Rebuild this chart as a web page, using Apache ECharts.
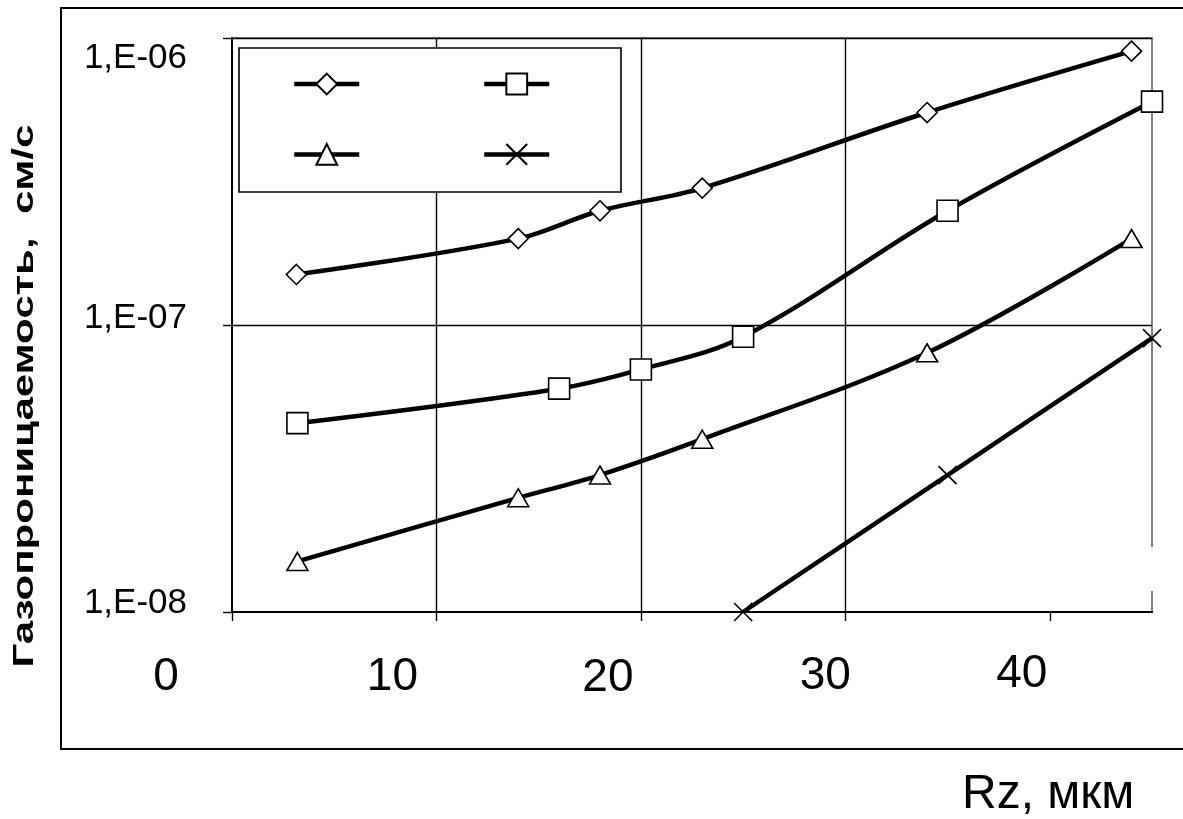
<!DOCTYPE html>
<html>
<head>
<meta charset="utf-8">
<script src="https://cdn.jsdelivr.net/npm/echarts@6/dist/echarts.min.js"></script>
<style>
html,body{margin:0;padding:0;background:#fff;}
#c{width:1183px;height:819px;}
</style>
</head>
<body>
<div id="c"></div>
<script>
// ---- data ----
const xDiamond  = [3.15, 14, 18, 23, 34, 44];
const yDiamond  = [1.5e-7, 2.0e-7, 2.5e-7, 3.0e-7, 5.5e-7, 9.0e-7];
const xSquare   = [3.2, 16, 20, 25, 35, 45];
const ySquare   = [4.55e-8, 6.0e-8, 7.0e-8, 9.1e-8, 2.5e-7, 6.0e-7];
const xTriangle = [3.2, 14, 18, 23, 34, 44];
const yTriangle = [1.5e-8, 2.5e-8, 3.0e-8, 4.0e-8, 8.0e-8, 2.0e-7];
const xCross    = [25, 35, 45];
const yCross    = [1.0e-8, 3.0e-8, 9.0e-8];

const xTickValues = [0, 10, 20, 30, 40];
const xTickLabels = ['0', '10', '20', '30', '40'];
const yTickLabels = ['1,E-08', '1,E-07', '1,E-06'];
const seriesNames = ['s1', 's2', 's3', 's4'];
const yTitle = 'Газопроницаемость,  см/с';
const xTitle = 'Rz, мкм';

function pairs(xs, ys) { return xs.map((x, i) => [x, ys[i]]); }

const FONT = '"Liberation Sans", Arial, sans-serif';
const crossPath = 'path://M0 0L10 10M10 0L0 10';

const chart = echarts.init(document.getElementById('c'), null, {renderer: 'canvas'});

function mkSeries(name, data, symbol, size) {
  return {
    name: name,
    type: 'line',
    data: data,
    smooth: 0.35,
    clip: false,
    symbol: symbol,
    symbolSize: size,
    showAllSymbol: true,
    lineStyle: {color: '#000', width: 4.5},
    itemStyle: {color: '#fff', borderColor: '#000', borderWidth: 1.6},
    emphasis: {disabled: true},
    z: 3
  };
}

const legendCommon = {
  orient: 'vertical', top: 71, padding: 0,
  itemWidth: 65, itemHeight: 26, itemGap: 46,
  formatter: function () { return ''; },
  lineStyle: {color: '#000', width: 4.5},
  selectedMode: false, z: 6
};

const option = {
  animation: false,
  backgroundColor: '#fff',
  textStyle: {fontFamily: FONT, color: '#000'},
  title: {
    text: xTitle,
    left: 962, top: 771, padding: 0,
    textStyle: {fontFamily: FONT, fontSize: 48, fontWeight: 'normal', color: '#000', lineHeight: 48}
  },
  grid: {
    left: 232, right: 31, top: 38, bottom: 207,
    show: true, borderColor: '#808080', borderWidth: 2, backgroundColor: 'transparent'
  },
  legend: [
    Object.assign({}, legendCommon, {data: [seriesNames[0], seriesNames[2]], left: 292}),
    Object.assign({}, legendCommon, {data: [seriesNames[1], seriesNames[3]], left: 482})
  ],
  graphic: [
    { type: 'rect', z: 5, shape: {x: 61, y: 8, width: 1160, height: 741},
      style: {fill: 'none', stroke: '#000', lineWidth: 2}, silent: true },
    { type: 'rect', z: 5, shape: {x: 239, y: 48, width: 382, height: 144},
      style: {fill: '#fff', stroke: '#000', lineWidth: 1.6}, silent: true },
    { type: 'rect', z: 1, shape: {x: 1042, y: 547, width: 116, height: 44},
      style: {fill: '#fff', stroke: 'none'}, silent: true },
    { type: 'text', z: 5, x: 25, y: 396, rotation: Math.PI / 2, scaleX: 1.4, scaleY: 1,
      style: {text: yTitle, fontFamily: FONT, fontSize: 30, fontWeight: 'bold', fill: '#000',
              align: 'center', verticalAlign: 'middle'}, silent: true }
  ],
  xAxis: {
    type: 'value', min: 0, max: 45, interval: 10,
    axisLine: {show: true, onZero: false, lineStyle: {color: '#000', width: 2}},
    axisTick: {show: true, inside: false, length: 9, customValues: xTickValues, lineStyle: {color: '#000', width: 1.4}},
    splitLine: {show: true, showMinLine: false, showMaxLine: false, lineStyle: {color: '#000', width: 1.4}},
    axisLabel: {
      customValues: xTickValues,
      margin: 37,
      formatter: function (v) { const i = xTickValues.indexOf(v); return i < 0 ? '' : '{x' + i + '|' + xTickLabels[i] + '}'; },
      rich: {
        x0: {fontFamily: FONT, fontSize: 46, lineHeight: 46, color: '#000', padding: [10, 132, 0, 0]},
        x1: {fontFamily: FONT, fontSize: 46, lineHeight: 46, color: '#000', padding: [10, 88, 0, 0]},
        x2: {fontFamily: FONT, fontSize: 46, lineHeight: 46, color: '#000', padding: [12, 66, 0, 0]},
        x3: {fontFamily: FONT, fontSize: 46, lineHeight: 46, color: '#000', padding: [9, 40, 0, 0]},
        x4: {fontFamily: FONT, fontSize: 46, lineHeight: 46, color: '#000', padding: [5, 56, 0, 0]}
      }
    }
  },
  yAxis: {
    type: 'log', logBase: 10, min: 1e-8, max: 1e-6,
    axisLine: {show: true, onZero: false, lineStyle: {color: '#000', width: 2}},
    axisTick: {show: true, inside: false, length: 9, lineStyle: {color: '#000', width: 1.4}},
    splitLine: {show: true, showMinLine: false, showMaxLine: false, lineStyle: {color: '#000', width: 1.4}},
    axisLabel: {
      margin: 45,
      formatter: function (v) {
        const i = Math.round(Math.log10(v)) + 8;
        if (i < 0 || i > 2) return '';
        return '{y' + i + '|' + yTickLabels[i] + '}';
      },
      rich: {
        y0: {fontFamily: FONT, fontSize: 35, lineHeight: 36, color: '#000', padding: [0, 0, 18, 0]},
        y1: {fontFamily: FONT, fontSize: 35, lineHeight: 36, color: '#000', padding: [0, 0, 14, 0]},
        y2: {fontFamily: FONT, fontSize: 35, lineHeight: 36, color: '#000', padding: [40, 0, 0, 0]}
      }
    }
  },
  series: [
    mkSeries(seriesNames[0], pairs(xDiamond, yDiamond), 'diamond', [20, 20]),
    mkSeries(seriesNames[1], pairs(xSquare, ySquare), 'rect', [21, 21]),
    mkSeries(seriesNames[2], pairs(xTriangle, yTriangle), 'triangle', [21, 18]),
    mkSeries(seriesNames[3], pairs(xCross, yCross), crossPath, [18, 18])
  ]
};
chart.setOption(option);
</script>
</body>
</html>
